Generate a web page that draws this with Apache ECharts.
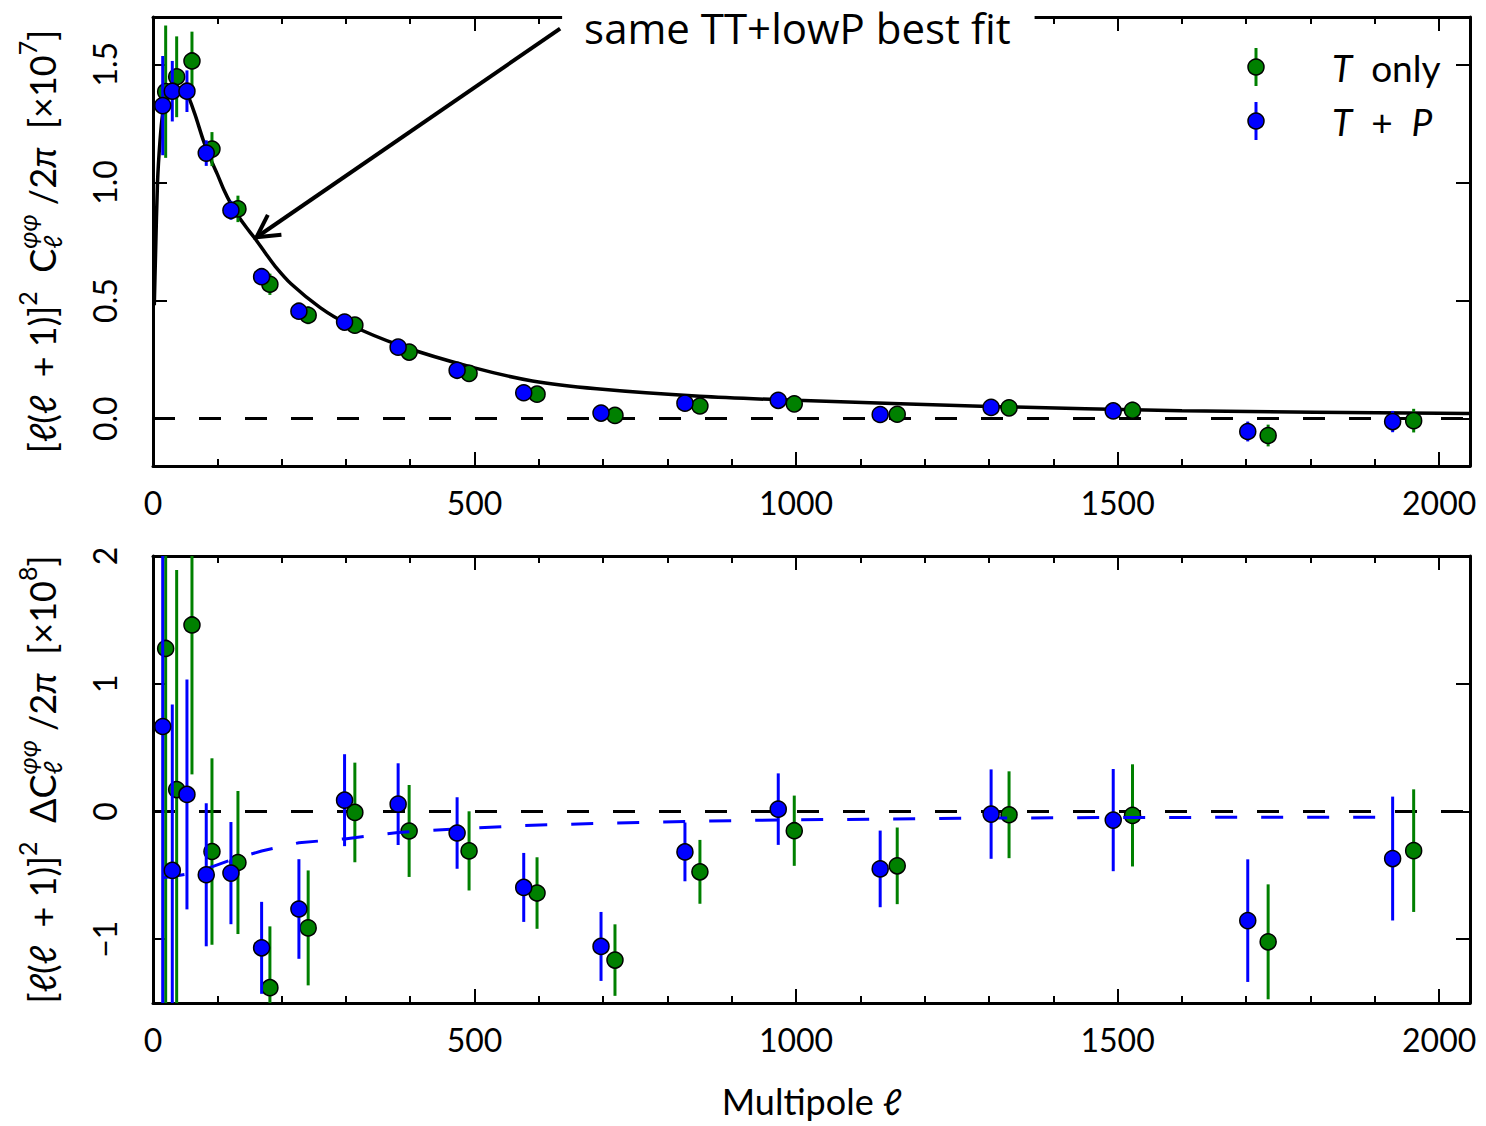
<!DOCTYPE html>
<html>
<head>
<meta charset="utf-8">
<title>Lensing potential power spectrum</title>
<script src="https://cdn.jsdelivr.net/npm/echarts@6.0.0/dist/echarts.min.js"></script>
<style>
  html, body { margin: 0; padding: 0; background: #fff; }
  #chart { width: 1486px; height: 1126px; }
</style>
</head>
<body>
<div id="chart"></div>
<script>
// ---- data ---------------------------------------------------------------
// Multipole bin centres (the T-only points sit slightly to the right)
const ellTonly = [19.7, 36.8, 60.6, 91.7, 132.1, 181.8, 241.3, 313.9, 398.3, 491.5,
                  597.2, 718.4, 850.5, 997.2, 1157.3, 1331.2, 1523.2, 1734.1, 1960.4];
const ellTP    = [15.1, 30.0, 52.8, 82.8, 121.2, 168.9, 226.9, 297.9, 381.2, 472.9,
                  576.5, 696.7, 827.2, 972.3, 1130.8, 1303.3, 1493.2, 1702.4, 1927.7];

// Upper panel: [l(l+1)]^2 C_l^phiphi / 2pi, units of 1e-7
const clTonly    = [1.384, 1.447, 1.514, 1.141, 0.888, 0.569, 0.438, 0.396, 0.282, 0.192,
                    0.104, 0.014, 0.054, 0.063, 0.019, 0.046, 0.036, -0.071, -0.008];
const clTonlyErr = [0.28, 0.171, 0.124, 0.072, 0.056, 0.045, 0.038, 0.034, 0.031, 0.029,
                    0.028, 0.028, 0.029, 0.030, 0.031, 0.033, 0.036, 0.046, 0.050];
const clTP       = [1.325, 1.386, 1.386, 1.124, 0.882, 0.601, 0.455, 0.409, 0.303, 0.205,
                    0.110, 0.024, 0.066, 0.078, 0.018, 0.048, 0.033, -0.054, -0.012];
const clTPErr    = [0.21, 0.128, 0.088, 0.054, 0.040, 0.035, 0.030, 0.028, 0.027, 0.026,
                    0.025, 0.025, 0.026, 0.027, 0.028, 0.030, 0.032, 0.042, 0.045];

// Lower panel: residual with respect to the TT+lowP best fit, units of 1e-8
const dClTonly    = [1.276, 0.171, 1.460, -0.314, -0.400, -1.380, -0.912, -0.008, -0.153, -0.309,
                     -0.639, -1.164, -0.473, -0.151, -0.426, -0.026, -0.031, -1.021, -0.307];
const dClTonlyErr = [3.0, 1.72, 1.17, 0.73, 0.56, 0.48, 0.45, 0.39, 0.36, 0.31,
                     0.28, 0.28, 0.25, 0.275, 0.30, 0.34, 0.40, 0.45, 0.48];
const dClTP       = [0.665, -0.462, 0.133, -0.496, -0.483, -1.068, -0.764, 0.088, 0.057, -0.169,
                     -0.595, -1.057, -0.317, 0.018, -0.450, -0.021, -0.068, -0.855, -0.369];
const dClTPErr    = [2.6, 1.30, 0.90, 0.56, 0.40, 0.36, 0.39, 0.36, 0.32, 0.28,
                     0.27, 0.27, 0.23, 0.28, 0.30, 0.35, 0.40, 0.48, 0.485];

// Binned shift of the T+P model relative to the best fit (blue dashed), at ellTP
const shiftTP = [-0.52, -0.51, -0.49, -0.45, -0.38, -0.31, -0.245, -0.215, -0.165, -0.137,
                 -0.11, -0.093, -0.078, -0.067, -0.06, -0.052, -0.048, -0.046, -0.045];

// Best-fit theory curve for the upper panel
const theoryEll = [2, 4, 7, 11, 15, 20, 30, 40, 52, 65, 78, 91, 100, 110, 121, 132, 145, 158,
                   175, 190, 215, 260, 300, 384, 500, 590, 690, 850, 1000, 1300, 1600, 2048];
const theoryCl  = [0.48, 0.70, 1.00, 1.18, 1.29, 1.35, 1.39, 1.40, 1.38, 1.29, 1.18, 1.09,
                   1.035, 0.97, 0.91, 0.86, 0.81, 0.765, 0.70, 0.645, 0.57, 0.47, 0.405, 0.31,
                   0.215, 0.16, 0.127, 0.095, 0.078, 0.052, 0.034, 0.022];

// Axis ticks and ranges
const ELL_MAX = 2048;
const xMajorTicks = [0, 500, 1000, 1500, 2000];
const xMinorTicks = [];
for (let v = 0; v <= 2000; v += 100) xMinorTicks.push(v);
const yTicksTop = [0, 0.5, 1.0, 1.5];
const yTicksBottom = [-1, 0, 1, 2];
const yRangeTop = [-0.2, 1.7];
const yRangeBottom = [-1.5, 2];

// Annotation anchor points (data coordinates of the upper panel)
const annotationText = 'same TT+lowP best fit';
const annotationTarget = [161, 0.768];
const annotationTextAt = [1002, 1.655];

// ---- styling ------------------------------------------------------------
const FONT = 'Lato, "DejaVu Sans", sans-serif';
const GREEN = '#008000';
const BLUE = '#0000ff';
const GRIDS = [
  { left: 153, top: 17, width: 1317, height: 449 },
  { left: 153, top: 556, width: 1317, height: 447 }
];
const TICK_FONT = 32;

const zip = (a, b) => a.map((v, i) => [v, b[i]]);
const withErr = (x, v, e) => x.map((xi, i) => [xi, v[i] - e[i], v[i] + e[i]]);

function xAxesFor(gridIndex, withName) {
  const frame = { show: true, onZero: false, lineStyle: { color: '#000', width: 3 } };
  const hidden = { show: false, onZero: false };
  const base = { type: 'value', gridIndex, min: 0, max: ELL_MAX, splitLine: { show: false }, silent: true };
  const minor = { show: true, inside: true, length: 7, lineStyle: { color: '#000', width: 2 }, customValues: xMinorTicks };
  const major = { show: true, inside: true, length: 14, lineStyle: { color: '#000', width: 2 }, customValues: xMajorTicks };
  const main = Object.assign({}, base, {
    position: 'bottom', axisLine: frame, axisTick: minor,
    axisLabel: { show: true, customValues: xMajorTicks, margin: 20, fontSize: TICK_FONT, fontFamily: FONT,
                 color: '#000', formatter: v => String(v) }
  });
  if (withName) {
    Object.assign(main, {
      name: 'Multipole {i|ℓ}', nameLocation: 'middle', nameGap: 80,
      nameTextStyle: { fontSize: 36, fontFamily: FONT, color: '#000',
        rich: { i: { fontStyle: 'italic', fontSize: 36, fontFamily: FONT, color: '#000' } } }
    });
  }
  return [
    main,
    Object.assign({}, base, { position: 'bottom', axisLine: hidden, axisTick: major, axisLabel: { show: false } }),
    Object.assign({}, base, { position: 'top', axisLine: frame, axisTick: minor, axisLabel: { show: false } }),
    Object.assign({}, base, { position: 'top', axisLine: hidden, axisTick: major, axisLabel: { show: false } })
  ];
}

function yAxesFor(gridIndex, range, ticks, fmt) {
  const base = {
    type: 'value', gridIndex, min: range[0], max: range[1], splitLine: { show: false }, silent: true,
    axisLine: { show: true, onZero: false, lineStyle: { color: '#000', width: 3 } },
    axisTick: { show: true, inside: true, length: 14, lineStyle: { color: '#000', width: 2 }, customValues: ticks }
  };
  return [
    Object.assign({}, base, { position: 'left',
      axisLabel: { show: true, customValues: ticks, rotate: 90, margin: 33, fontSize: TICK_FONT,
                   fontFamily: FONT, color: '#000', formatter: fmt } }),
    Object.assign({}, base, { position: 'right', axisLabel: { show: false } })
  ];
}

function renderErrorBar(params, api) {
  const x = api.value(0);
  const lo = api.coord([x, api.value(1)]);
  const hi = api.coord([x, api.value(2)]);
  const cs = params.coordSys;
  const y1 = Math.max(hi[1], cs.y);
  const y2 = Math.min(lo[1], cs.y + cs.height);
  if (y2 <= y1) return null;
  return {
    type: 'line',
    shape: { x1: lo[0], y1, x2: lo[0], y2 },
    style: { stroke: api.visual('color'), lineWidth: 3 }
  };
}

function errorSeries(xi, yi, data, color, z) {
  return { type: 'custom', xAxisIndex: xi, yAxisIndex: yi, data, renderItem: renderErrorBar,
           encode: { x: 0, y: [1, 2] }, itemStyle: { color }, z, silent: true, clip: true };
}
function pointSeries(xi, yi, data, color, z) {
  return { type: 'scatter', xAxisIndex: xi, yAxisIndex: yi, data, symbol: 'circle', symbolSize: 16,
           itemStyle: { color, borderColor: '#000', borderWidth: 1.5, opacity: 1 }, z, silent: true };
}
const zeroLine = {
  silent: true, symbol: 'none', z: 1, label: { show: false },
  lineStyle: { color: '#000', width: 3, type: [22, 24] }, data: [{ yAxis: 0 }]
};

const option = {
  animation: false,
  backgroundColor: '#fff',
  grid: GRIDS.map(g => Object.assign({ containLabel: false }, g)),
  xAxis: [...xAxesFor(0, false), ...xAxesFor(1, true)],
  yAxis: [
    ...yAxesFor(0, yRangeTop, yTicksTop, v => v.toFixed(1)),
    ...yAxesFor(1, yRangeBottom, yTicksBottom, v => (v < 0 ? '\u2212' + Math.abs(v) : String(v)))
  ],
  series: [
    // upper panel
    { type: 'line', xAxisIndex: 0, yAxisIndex: 0, data: zip(theoryEll, theoryCl), showSymbol: false,
      smooth: 0.25, lineStyle: { color: '#000', width: 3.5 }, z: 2, silent: true, markLine: zeroLine },
    errorSeries(0, 0, withErr(ellTonly, clTonly, clTonlyErr), GREEN, 3),
    pointSeries(0, 0, zip(ellTonly, clTonly), GREEN, 4),
    errorSeries(0, 0, withErr(ellTP, clTP, clTPErr), BLUE, 6),
    pointSeries(0, 0, zip(ellTP, clTP), BLUE, 7),
    // lower panel
    { type: 'line', xAxisIndex: 4, yAxisIndex: 2, data: zip(ellTP, shiftTP), showSymbol: false,
      lineStyle: { color: BLUE, width: 3, type: [22, 24] }, z: 5, silent: true, markLine: zeroLine },
    errorSeries(4, 2, withErr(ellTonly, dClTonly, dClTonlyErr), GREEN, 3),
    pointSeries(4, 2, zip(ellTonly, dClTonly), GREEN, 4),
    errorSeries(4, 2, withErr(ellTP, dClTP, dClTPErr), BLUE, 6),
    pointSeries(4, 2, zip(ellTP, dClTP), BLUE, 7)
  ]
};

const chart = echarts.init(document.getElementById('chart'), null, { renderer: 'svg' });
chart.setOption(option);

// ---- axis titles, legend and annotation ---------------------------------
const ctx = document.createElement('canvas').getContext('2d');
const fontOf = p => (p.it ? 'italic ' : '') + p.size + 'px ' + FONT;
const widthOf = p => { ctx.font = fontOf(p); return ctx.measureText(p.t).width; };

// Lay out a formula along a baseline; `stack` entries share one slot (super/subscript pair)
function formula(pieces, cx, cy, rotation) {
  let x = 0;
  const placed = [];
  pieces.forEach(p => {
    if (p.stack) {
      p.stack.forEach(q => placed.push({ q, x }));
      x += Math.max(...p.stack.map(widthOf));
    } else {
      placed.push({ q: p, x });
      x += widthOf(p);
    }
  });
  const total = x;
  return {
    type: 'group', x: cx, y: cy, rotation, z: 50, silent: true,
    children: placed.map(({ q, x }) => ({
      type: 'text', x: x - total / 2, y: q.dy || 0, z: 50,
      style: { text: q.t, fontSize: q.size, fontFamily: FONT, fontStyle: q.it ? 'italic' : 'normal',
               fill: '#000', align: 'left', verticalAlign: 'middle' }
    }))
  };
}

const M = 36, S = 25, SUP = -15, SUB = 10;
const up = (t, size = M, dy = 0) => ({ t, size, dy });
const it = (t, size = M, dy = 0) => ({ t, size, dy, it: true });
const prefix = [up('['), it('ℓ'), up('('), it('ℓ'), up('  + 1)]'), up('2', S, SUP), up('  ')];
const cPhi = { stack: [it('φφ', S, SUP), it('ℓ', S, SUB)] };

const titleTop = prefix.concat([up('C'), cPhi, up(' /2'), it('π'), up('  [×10'), up('7', S, SUP), up(']')]);
const titleBottom = prefix.concat([up('ΔC'), cPhi, up(' /2'), it('π'), up('  [×10'), up('8', S, SUP), up(']')]);

const g0 = GRIDS[0], g1 = GRIDS[1];
const graphics = [
  formula(titleTop, 42, g0.top + g0.height / 2, Math.PI / 2),
  formula(titleBottom, 42, g1.top + g1.height / 2, Math.PI / 2)
];

// legend (error-bar glyph + label)
const legendItems = [
  { color: GREEN, text: '{i|T}  only', dy: 50 },
  { color: BLUE, text: '{i|T}  +  {i|P}', dy: 104 }
];
const gRight = g0.left + g0.width;
legendItems.forEach(item => {
  const lx = gRight - 214, ly = g0.top + item.dy;
  graphics.push(
    { type: 'line', z: 60, silent: true, shape: { x1: lx, y1: ly - 19, x2: lx, y2: ly + 19 },
      style: { stroke: item.color, lineWidth: 3 } },
    { type: 'circle', z: 61, silent: true, shape: { cx: lx, cy: ly, r: 8 },
      style: { fill: item.color, stroke: '#000', lineWidth: 1.5 } },
    { type: 'text', z: 61, silent: true, x: gRight - 138, y: ly,
      style: { text: item.text, fontSize: 37, fontFamily: FONT, fill: '#000', align: 'left', verticalAlign: 'middle',
               rich: { i: { fontStyle: 'italic', fontSize: 37, fontFamily: FONT, fill: '#000' } } } }
  );
});

// annotation pointing at the best-fit curve
const tip = chart.convertToPixel({ xAxisIndex: 0, yAxisIndex: 0 }, annotationTarget);
const txt = chart.convertToPixel({ xAxisIndex: 0, yAxisIndex: 0 }, annotationTextAt);
const ANNOT_FONT = 42;
ctx.font = ANNOT_FONT + 'px "Open Sans", sans-serif';
const tw = ctx.measureText(annotationText).width;
const boxL = txt[0] - tw / 2 - 22, boxR = txt[0] + tw / 2 + 24;
const tail = [boxL - 2, txt[1] + 1];
const ang = Math.atan2(tail[1] - tip[1], tail[0] - tip[0]);
const head = a => [tip[0] + 25 * Math.cos(ang + a), tip[1] + 25 * Math.sin(ang + a)];
graphics.push(
  { type: 'rect', z: 70, silent: true, shape: { x: boxL, y: 0, width: boxR - boxL, height: 2 * txt[1] + 2 },
    style: { fill: '#fff' } },
  { type: 'text', z: 71, silent: true, x: txt[0], y: txt[1],
    style: { text: annotationText, fontSize: ANNOT_FONT, lineHeight: 44, fontFamily: '"Open Sans", sans-serif',
             fill: '#000', align: 'center', verticalAlign: 'middle' } },
  { type: 'line', z: 71, silent: true, shape: { x1: tail[0], y1: tail[1], x2: tip[0], y2: tip[1] },
    style: { stroke: '#000', lineWidth: 4 } },
  { type: 'polyline', z: 71, silent: true, shape: { points: [head(0.5), tip, head(-0.5)] },
    style: { stroke: '#000', lineWidth: 4, fill: null, lineJoin: 'miter' } }
);

chart.setOption({ graphic: graphics });
</script>
</body>
</html>
